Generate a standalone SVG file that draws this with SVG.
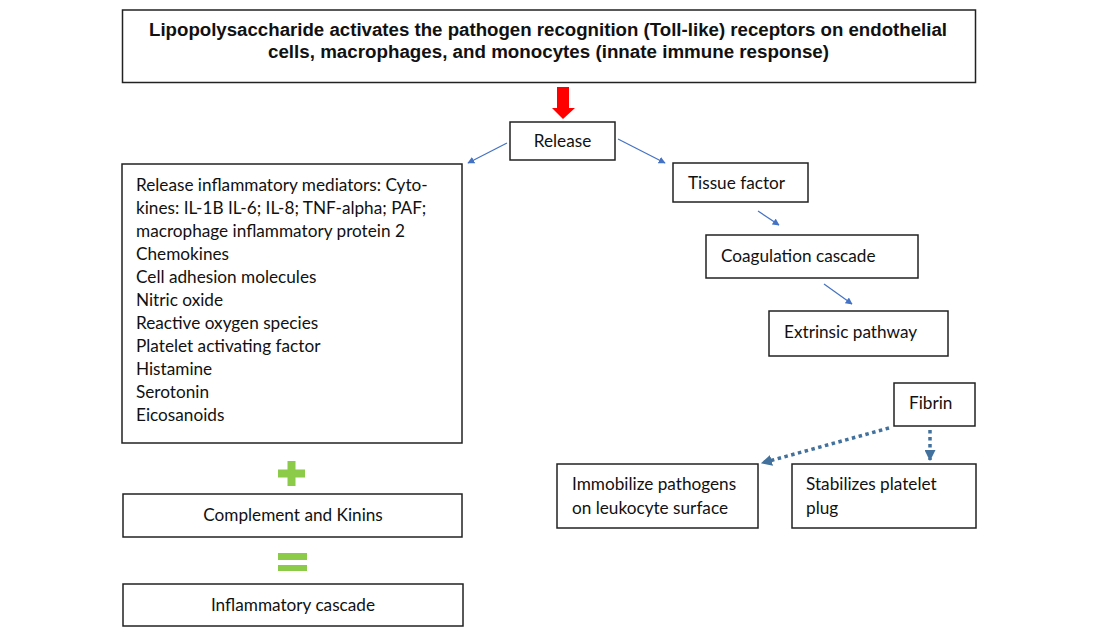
<svg xmlns="http://www.w3.org/2000/svg" width="1115" height="633" viewBox="0 0 1115 633">
<style>
.box{fill:#fff;stroke:#222;stroke-width:1.5}
.t{font-family:Lato,"Open Sans","Liberation Sans",sans-serif;font-size:17.2px;fill:#111}
.h{font-family:"Liberation Sans",Arial,sans-serif;font-weight:bold;font-size:18px;fill:#111}
.thin{stroke:#4472C4;stroke-width:1.2;fill:none;marker-end:url(#ah)}
.dot{stroke:#41719C;stroke-width:3.5;stroke-dasharray:3.5 3.5;fill:none;marker-end:url(#dh)}
.green{fill:#8CCB4A}
</style>
<defs>
<marker id="ah" viewBox="0 0 10 10" refX="9" refY="5" markerWidth="7" markerHeight="7" markerUnits="userSpaceOnUse" orient="auto">
<path d="M0,0 L10,5 L0,10 z" fill="#4472C4"/>
</marker>
<marker id="dh" viewBox="0 0 10 10" refX="9" refY="5" markerWidth="11" markerHeight="11" markerUnits="userSpaceOnUse" orient="auto">
<path d="M0,0 L10,5 L0,10 z" fill="#41719C"/>
</marker>
</defs>
<rect width="1115" height="633" fill="#fff"/>

<g id="top">
<rect class="box" x="122.5" y="10" width="853" height="72.5"/>
<text class="h" x="548" y="36" text-anchor="middle" textLength="798" lengthAdjust="spacingAndGlyphs">Lipopolysaccharide activates the pathogen recognition (Toll-like) receptors on endothelial</text>
<text class="h" x="548.5" y="58" text-anchor="middle" textLength="561" lengthAdjust="spacingAndGlyphs">cells, macrophages, and monocytes (innate immune response)</text>
</g>

<g id="red-arrow">
<path d="M557,87 H569 V108 H575 L563,119 L552,108 H557 Z" fill="#FF0000"/>
</g>

<g id="release">
<rect class="box" x="510" y="122" width="105" height="38"/>
<text class="t" x="562.5" y="147" text-anchor="middle">Release</text>
</g>

<g id="mediators">
<rect class="box" x="122" y="164" width="340" height="279"/>
<text class="t" x="136" y="191">Release inflammatory mediators: Cyto-</text>
<text class="t" x="136" y="214">kines: IL-1B IL-6; IL-8; TNF-alpha; PAF;</text>
<text class="t" x="136" y="237">macrophage inflammatory protein 2</text>
<text class="t" x="136" y="260">Chemokines</text>
<text class="t" x="136" y="283">Cell adhesion molecules</text>
<text class="t" x="136" y="306">Nitric oxide</text>
<text class="t" x="136" y="329">Reactive oxygen species</text>
<text class="t" x="136" y="352">Platelet activating factor</text>
<text class="t" x="136" y="375">Histamine</text>
<text class="t" x="136" y="398">Serotonin</text>
<text class="t" x="136" y="421">Eicosanoids</text>
</g>

<g id="plus">
<rect class="green" x="278" y="469.5" width="27" height="8"/>
<rect class="green" x="287.5" y="461" width="8" height="25"/>
</g>

<g id="complement">
<rect class="box" x="123" y="494" width="339" height="43"/>
<text class="t" x="293" y="521" text-anchor="middle">Complement and Kinins</text>
</g>

<g id="equals">
<rect class="green" x="278" y="553" width="29" height="7"/>
<rect class="green" x="278" y="565" width="29" height="6"/>
</g>

<g id="inflammatory">
<rect class="box" x="123" y="584" width="340" height="42"/>
<text class="t" x="293" y="611" text-anchor="middle">Inflammatory cascade</text>
</g>

<g id="tissue">
<rect class="box" x="673" y="163" width="135" height="39"/>
<text class="t" x="688" y="189">Tissue factor</text>
</g>

<g id="coagulation">
<rect class="box" x="706" y="235" width="212" height="43"/>
<text class="t" x="721" y="262">Coagulation cascade</text>
</g>

<g id="extrinsic">
<rect class="box" x="769" y="311" width="179" height="45"/>
<text class="t" x="784" y="338">Extrinsic pathway</text>
</g>

<g id="fibrin">
<rect class="box" x="894" y="383" width="81" height="43"/>
<text class="t" x="909" y="409">Fibrin</text>
</g>

<g id="immobilize">
<rect class="box" x="557" y="464" width="201" height="64"/>
<text class="t" x="572" y="490">Immobilize pathogens</text>
<text class="t" x="572" y="514">on leukocyte surface</text>
</g>

<g id="stabilizes">
<rect class="box" x="792" y="464" width="184" height="64"/>
<text class="t" x="806" y="490">Stabilizes platelet</text>
<text class="t" x="806" y="514">plug</text>
</g>

<g id="connectors">
<line class="thin" x1="507" y1="143" x2="468" y2="163"/>
<line class="thin" x1="618" y1="139" x2="665" y2="163"/>
<line class="thin" x1="758" y1="211" x2="779" y2="225"/>
<line class="thin" x1="824" y1="284" x2="852" y2="304"/>
<line class="dot" x1="889" y1="428" x2="762" y2="463"/>
<line class="dot" x1="930" y1="430" x2="930" y2="460"/>
</g>
</svg>
